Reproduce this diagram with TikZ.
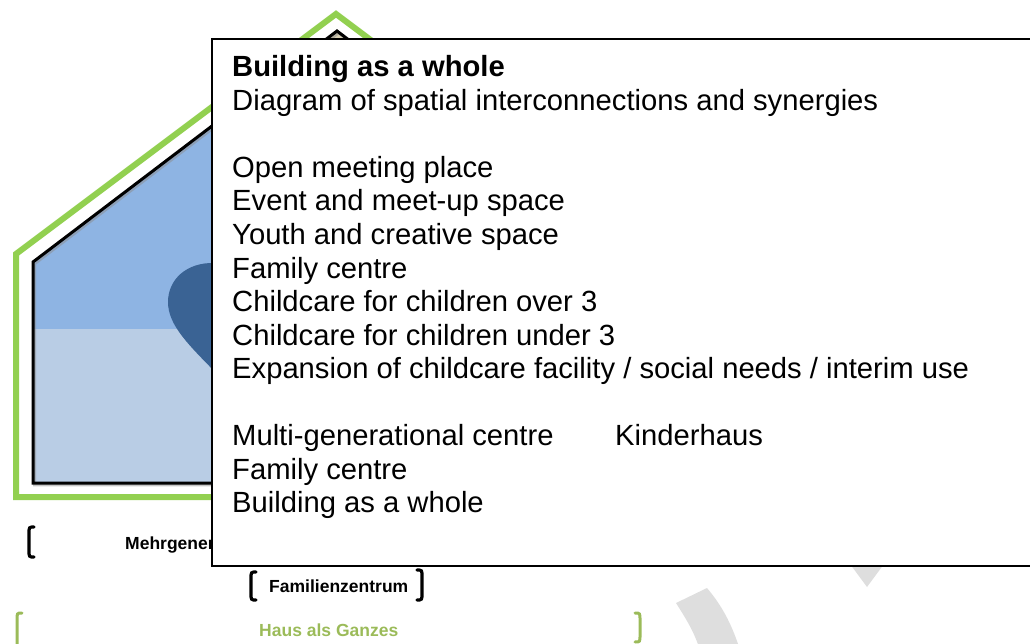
\documentclass[tikz,border=0pt]{standalone}
\usepackage{fontspec}
\setmainfont{Liberation Sans}
\begin{document}
\definecolor{frameGreen}{HTML}{92D050}
\definecolor{oliveGreen}{HTML}{9BBB59}
\definecolor{roofBlue}{HTML}{8EB4E3}
\definecolor{floorBlue}{HTML}{B9CDE5}
\definecolor{heartBlue}{HTML}{3A6394}
\definecolor{apexBeige}{HTML}{D8D0B4}
\definecolor{arcGrey}{HTML}{DEDEDE}
\begin{tikzpicture}[x=1pt,y=-1pt,
  legendline/.style={anchor=base west,inner sep=0pt,font=\fontsize{29.2}{33.5}\selectfont},
  tag/.style={anchor=base west,inner sep=0pt,font=\fontsize{17.5}{20}\selectfont\bfseries},
  blackbracket/.style={line width=3.2pt,line cap=round,black},
  greenbracket/.style={line width=3pt,line cap=round,oliveGreen}]
\useasboundingbox (0,0) rectangle (1030,644);

% grey circular arrow behind the legend
\fill[arcGrey] (676,603) .. controls (688,622) and (694,632) .. (700,650)
  -- (740,650) .. controls (733,628) and (724,608) .. (707,588) -- cycle;
\fill[arcGrey] (836,545) -- (898,545) -- (867,587) -- cycle;

% green outer frame of the house
\draw[frameGreen,line width=6pt,line join=miter]
  (16,497) -- (16,254) -- (336,14) -- (656,254) -- (656,497) -- cycle;

% inner house: roof zone, floor zone, heart
\fill[roofBlue] (33,483) -- (33,262) -- (337,31) -- (641,262) -- (641,483) -- cycle;
\fill[floorBlue] (33,329) rectangle (641,483);
\fill[apexBeige] (337,31) -- (298,62) -- (376,62) -- cycle;
\fill[heartBlue] (230,263) -- (215,263) .. controls (186,262) and (168,280) .. (168,302)
  .. controls (168,326) and (190,346) .. (218,375) -- (230,375) -- cycle;
\draw[black!45,line width=3pt,opacity=0.5,line join=miter,shift={(1.5,1.8)}]
  (33,483) -- (33,262) -- (337,31) -- (641,262) -- (641,483) -- cycle;
\draw[black,line width=3pt,line join=miter]
  (33,483) -- (33,262) -- (337,31) -- (641,262) -- (641,483) -- cycle;

% labels below the house, each with its rounded brackets
\node[tag] (mgh) at (125,549) {Mehrgenerationenhaus};
\draw[blackbracket] (34,527) .. controls (29,527) .. (29,534) -- (29,550) .. controls (29,557) .. (34,557);

\node[tag] (fz) at (269,592) {Familienzentrum};
\draw[blackbracket] (256,572) .. controls (251,572) .. (251,579) -- (251,593) .. controls (251,600) .. (256,600);
\draw[blackbracket] (417,570) .. controls (422,570) .. (422,577) -- (422,593) .. controls (422,600) .. (417,600);

\node[tag,text=oliveGreen] (hag) at (259,636) {Haus als Ganzes};
\draw[greenbracket] (22,613) .. controls (17,613) .. (17,620) -- (17,650);
\draw[greenbracket] (635,613) .. controls (640,613) .. (640,620) -- (640,635) .. controls (640,642) .. (635,642);

% legend panel
\node[draw=black,line width=2pt,fill=white,anchor=north west,inner sep=0pt,
  minimum width=840pt,minimum height=527pt] (legend) at (211,38) {};

\node[legendline,font=\fontsize{29.2}{33.5}\selectfont\bfseries] (l1) at (232,77) {Building as a whole};
\node[legendline] (l2)  at (232,110.5) {Diagram of spatial interconnections and synergies};
\node[legendline] (l4)  at (232,177.5) {Open meeting place};
\node[legendline] (l5)  at (232,211)   {Event and meet-up space};
\node[legendline] (l6)  at (232,244.5) {Youth and creative space};
\node[legendline] (l7)  at (232,278)   {Family centre};
\node[legendline] (l8)  at (232,311.5) {Childcare for children over 3};
\node[legendline] (l9)  at (232,345)   {Childcare for children under 3};
\node[legendline] (l10) at (232,378.5) {Expansion of childcare facility / social needs / interim use};
\node[legendline] (l12) at (232,445.5) {Multi-generational centre};
\node[legendline] (l12b) at (615,445.5) {Kinderhaus};
\node[legendline] (l13) at (232,479)   {Family centre};
\node[legendline] (l14) at (232,512.5) {Building as a whole};
\end{tikzpicture}
\end{document}
